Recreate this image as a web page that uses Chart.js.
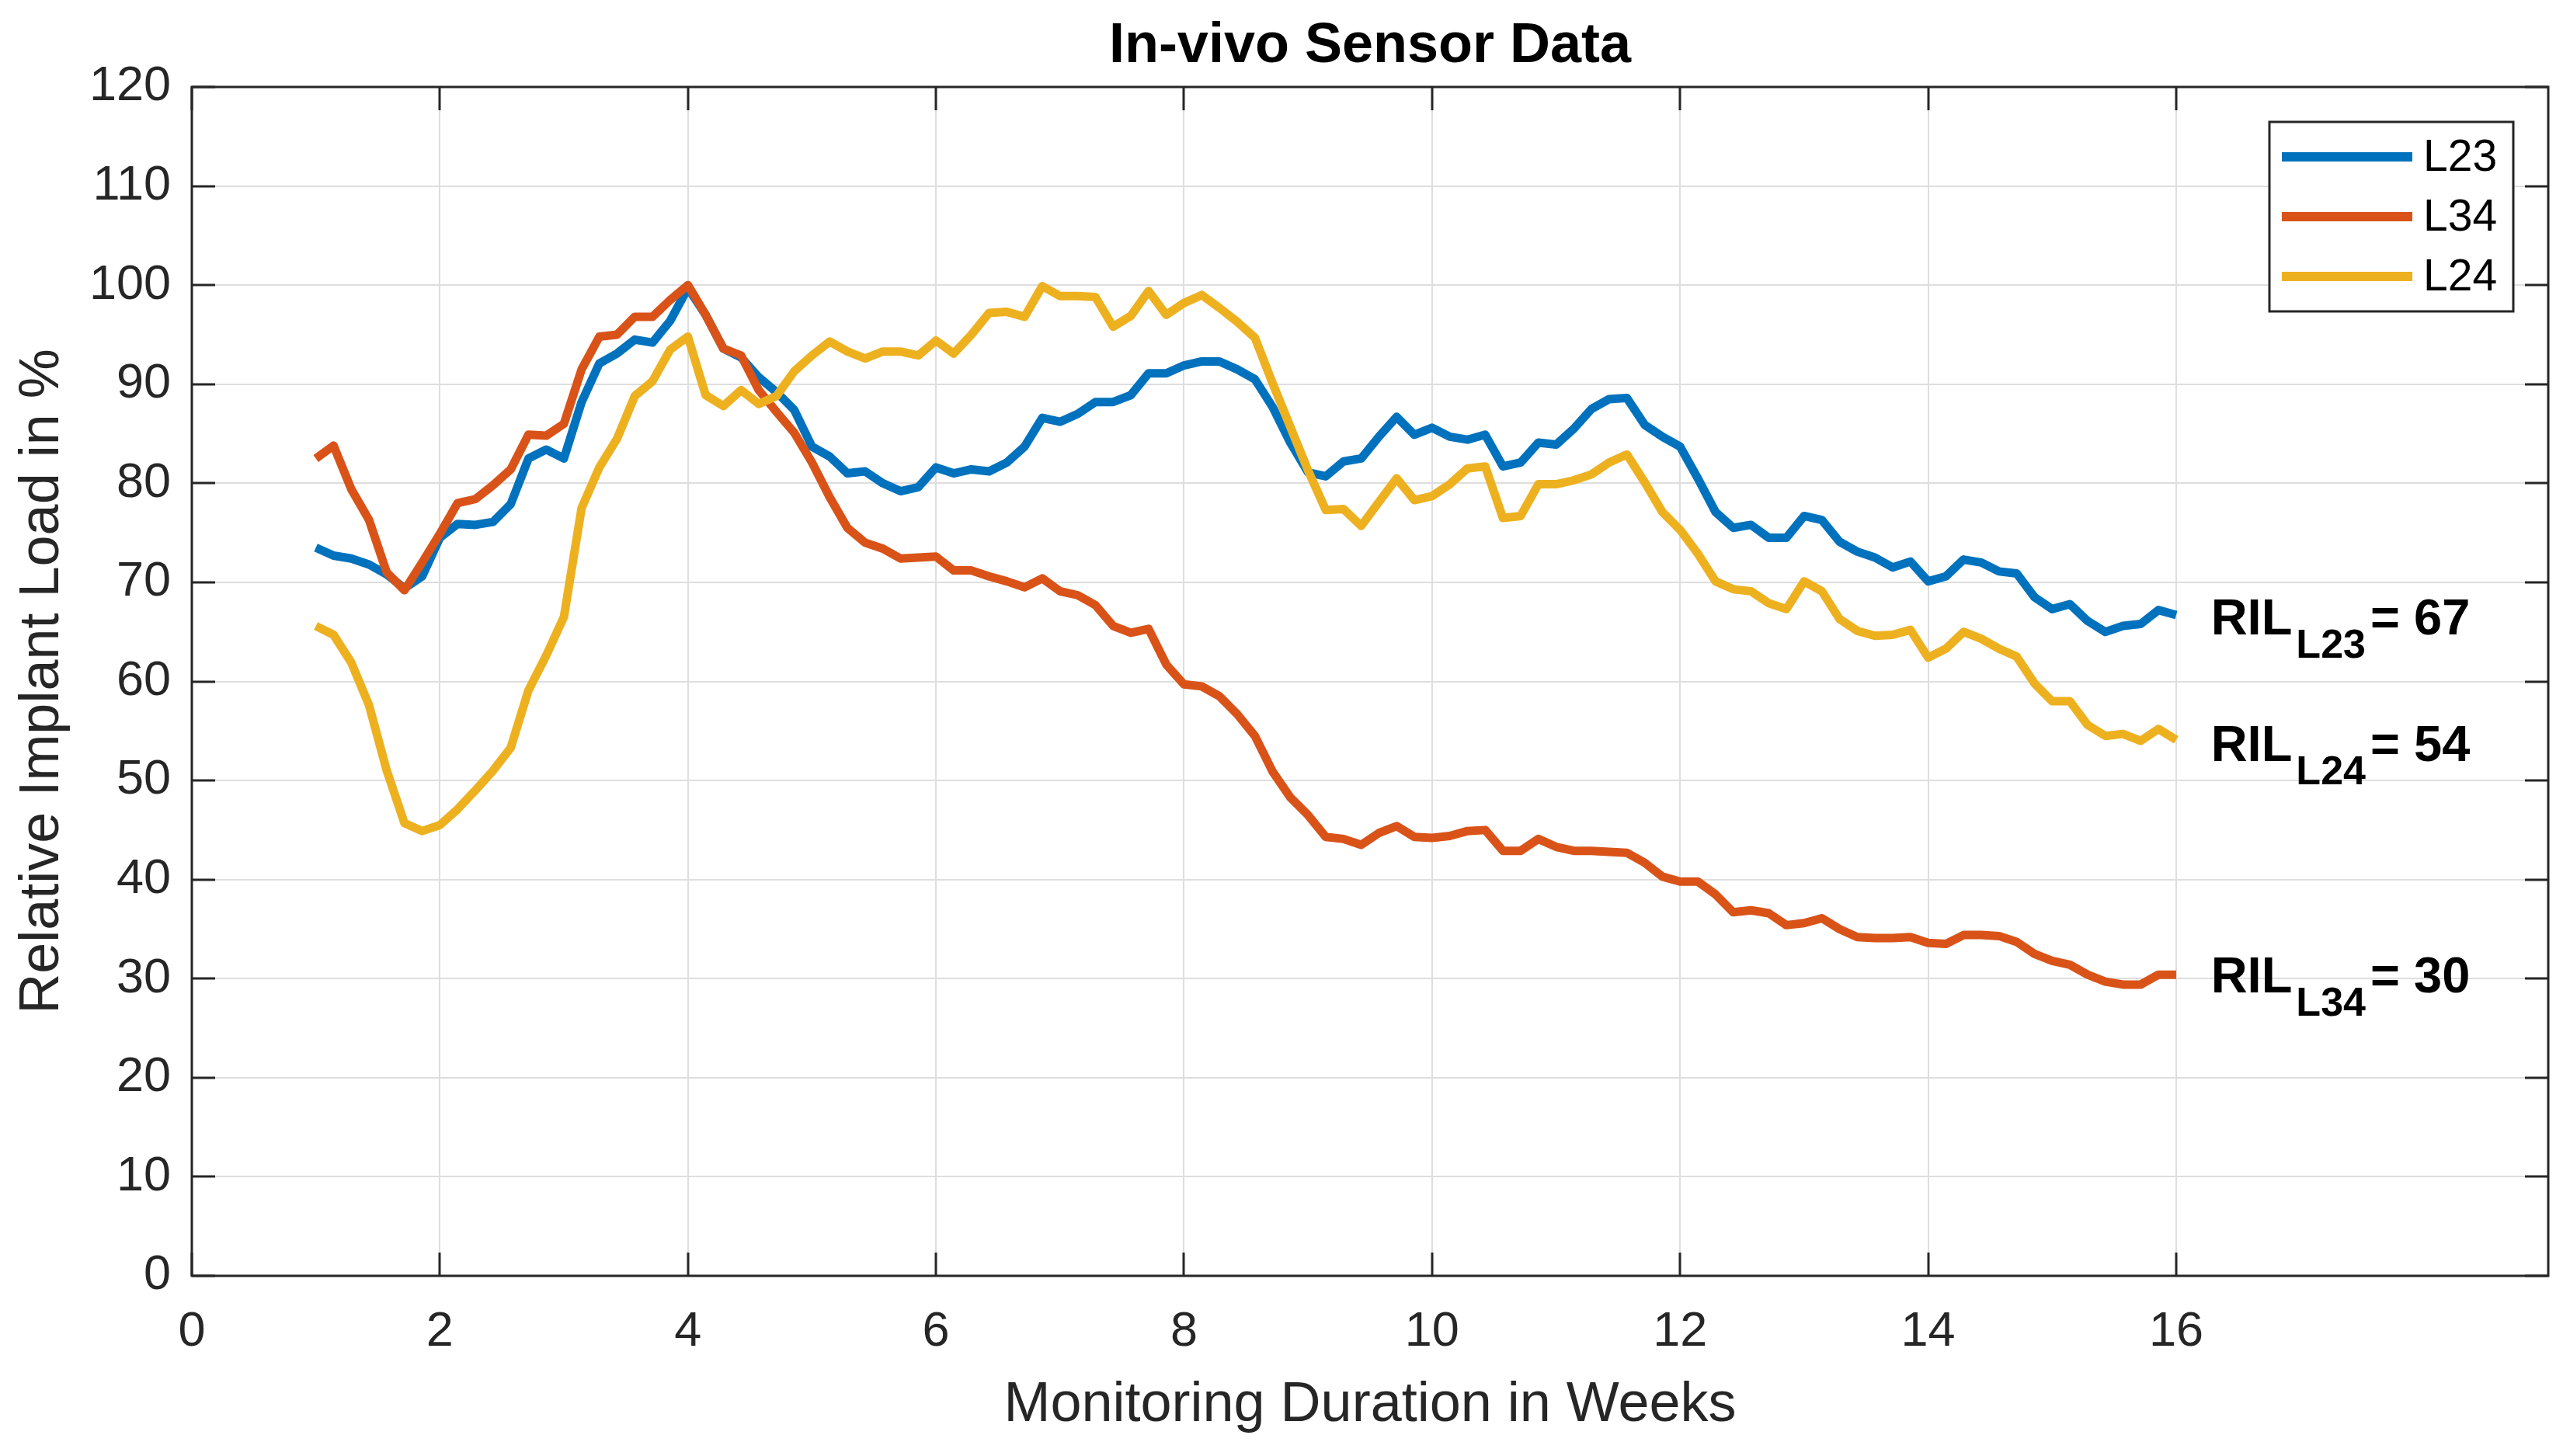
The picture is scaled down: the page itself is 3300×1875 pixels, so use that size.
<!DOCTYPE html>
<html>
<head>
<meta charset="utf-8">
<script src="https://cdn.jsdelivr.net/npm/chart.js@4.4.1/dist/chart.umd.min.js"></script>
<style>
  html, body { margin: 0; padding: 0; background: #fff; }
  canvas { display: block; }
</style>
</head>
<body>
<canvas id="chart" width="3300" height="1875"></canvas>
<script>
// daily samples, week 1 .. week 16
var L23 = [
    73.5, 72.7, 72.4, 71.8, 70.8, 69.4, 70.6, 74.5, 75.9, 75.8, 76.1, 77.9, 82.5, 83.4, 82.5,
    88.2, 92.1, 93.1, 94.5, 94.2, 96.4, 99.7, 97.0, 93.6, 92.7, 90.7, 89.2, 87.4, 83.7, 82.7,
    81.0, 81.2, 80.0, 79.2, 79.6, 81.6, 81.0, 81.4, 81.2, 82.1, 83.7, 86.6, 86.2, 87.0, 88.2,
    88.2, 88.9, 91.1, 91.1, 91.9, 92.3, 92.3, 91.5, 90.5, 87.7, 84.1, 81.1, 80.7, 82.2, 82.5,
    84.7, 86.7, 84.9, 85.6, 84.7, 84.4, 84.9, 81.7, 82.1, 84.1, 83.9, 85.5, 87.5, 88.5, 88.6,
    85.9, 84.7, 83.7, 80.5, 77.1, 75.5, 75.8, 74.5, 74.5, 76.7, 76.3, 74.1, 73.1, 72.5, 71.5,
    72.1, 70.1, 70.6, 72.3, 72.0, 71.1, 70.9, 68.5, 67.3, 67.8, 66.1, 65.0, 65.6, 65.8, 67.2,
    66.7
];
var L34 = [
    82.5, 83.8, 79.4, 76.3, 71.0, 69.2, 72.0, 74.9, 78.0, 78.4, 79.8, 81.4, 84.9, 84.8, 86.0,
    91.5, 94.8, 95.0, 96.8, 96.8, 98.5, 100.0, 97.0, 93.6, 92.9, 89.4, 87.2, 85.1, 82.1, 78.6,
    75.5, 74.0, 73.4, 72.4, 72.5, 72.6, 71.2, 71.2, 70.6, 70.1, 69.5, 70.4, 69.1, 68.7, 67.7,
    65.6, 64.9, 65.3, 61.7, 59.7, 59.5, 58.5, 56.7, 54.5, 50.9, 48.3, 46.5, 44.3, 44.1, 43.5,
    44.7, 45.4, 44.3, 44.2, 44.4, 44.9, 45.0, 42.9, 42.9, 44.1, 43.3, 42.9, 42.9, 42.8, 42.7,
    41.7, 40.3, 39.8, 39.8, 38.5, 36.7, 36.9, 36.6, 35.4, 35.6, 36.1, 35.0, 34.2, 34.1, 34.1,
    34.2, 33.6, 33.5, 34.4, 34.4, 34.3, 33.7, 32.5, 31.8, 31.4, 30.4, 29.7, 29.4, 29.4, 30.4,
    30.4
];
var L24 = [
    65.6, 64.7, 61.9, 57.6, 51.0, 45.7, 44.9, 45.5, 47.1, 49.0, 51.0, 53.3, 59.1, 62.6, 66.5,
    77.5, 81.6, 84.5, 88.8, 90.3, 93.5, 94.8, 88.9, 87.8, 89.4, 88.0, 88.8, 91.3, 92.9, 94.3,
    93.3, 92.6, 93.3, 93.3, 92.9, 94.4, 93.1, 95.0, 97.2, 97.3, 96.8, 99.9, 98.9, 98.9, 98.8,
    95.8, 96.9, 99.4, 97.0, 98.2, 99.0, 97.7, 96.3, 94.7, 90.1, 85.7, 81.3, 77.3, 77.4, 75.7,
    78.1, 80.5, 78.3, 78.7, 79.9, 81.5, 81.7, 76.5, 76.7, 79.9, 79.9, 80.3, 80.9, 82.1, 82.9,
    80.1, 77.1, 75.3, 72.9, 70.1, 69.3, 69.1, 67.9, 67.3, 70.1, 69.1, 66.3, 65.1, 64.6, 64.7,
    65.2, 62.4, 63.3, 65.0, 64.3, 63.3, 62.5, 59.8, 58.0, 58.0, 55.6, 54.5, 54.7, 54.0, 55.2,
    54.1
];
var SERIES_NAMES = ['L23', 'L34', 'L24'];
var X_TICKS = [0, 2, 4, 6, 8, 10, 12, 14, 16];
var RIL_NAMES = ['L23', 'L24', 'L34'];
var RIL_VALUES = [67, 54, 30];

var WEEKS = L23.map(function (_, i) { return 1 + i / 7; });

var COLORS = ['#0072BD', '#D95319', '#EDB120'];
var FONT = '"Liberation Sans", Arial, Helvetica, sans-serif';
var AXIS_COLOR = '#262626';

function points(values) {
    return values.map(function (v, i) { return { x: WEEKS[i], y: v }; });
}

// title centred over the axes, not over the canvas
var titlePlugin = {
    id: 'axesTitle',
    afterDraw: function (chart) {
        var ctx = chart.ctx, a = chart.chartArea;
        ctx.save();
        ctx.fillStyle = '#000';
        ctx.font = 'bold 72px ' + FONT;
        ctx.textAlign = 'center';
        ctx.textBaseline = 'middle';
        ctx.fillText('In-vivo Sensor Data', (a.left + a.right) / 2, 60);
        ctx.restore();
    }
};

// box, inward ticks on all four sides
var framePlugin = {
    id: 'matlabFrame',
    afterDatasetsDraw: function (chart) {
        var ctx = chart.ctx, a = chart.chartArea;
        var xs = chart.scales.x, ys = chart.scales.y;
        var tl = 30;
        ctx.save();
        ctx.strokeStyle = AXIS_COLOR;
        ctx.lineWidth = 3;
        ctx.beginPath();
        xs.ticks.forEach(function (t) {
            var px = Math.round(xs.getPixelForValue(t.value));
            ctx.moveTo(px, a.bottom); ctx.lineTo(px, a.bottom - tl);
            ctx.moveTo(px, a.top); ctx.lineTo(px, a.top + tl);
        });
        ys.ticks.forEach(function (t) {
            var py = Math.round(ys.getPixelForValue(t.value));
            ctx.moveTo(a.left, py); ctx.lineTo(a.left + tl, py);
            ctx.moveTo(a.right, py); ctx.lineTo(a.right - tl, py);
        });
        ctx.stroke();
        ctx.strokeRect(a.left, a.top, a.right - a.left, a.bottom - a.top);
        ctx.restore();
    }
};

// end value labels, RIL with subscript
var rilPlugin = {
    id: 'rilLabels',
    afterDatasetsDraw: function (chart) {
        var ctx = chart.ctx;
        var xs = chart.scales.x, ys = chart.scales.y;
        var posX = 16.28;
        var posY = [64.75, 52.0, 28.6];
        ctx.save();
        ctx.fillStyle = '#000';
        ctx.textAlign = 'left';
        ctx.textBaseline = 'alphabetic';
        RIL_NAMES.forEach(function (name, i) {
            var x = xs.getPixelForValue(posX);
            var y = ys.getPixelForValue(posY[i]);
            ctx.font = 'bold 65px ' + FONT;
            ctx.fillText('RIL', x, y);
            x += ctx.measureText('RIL').width + 5;
            ctx.font = 'bold 52px ' + FONT;
            ctx.fillText(name, x, y + 30);
            x += ctx.measureText(name).width + 6;
            ctx.font = 'bold 65px ' + FONT;
            ctx.fillText('= ' + RIL_VALUES[i], x, y);
        });
        ctx.restore();
    }
};

var legendPlugin = {
    id: 'boxLegend',
    afterDraw: function (chart) {
        var ctx = chart.ctx, a = chart.chartArea;
        var w = 314, h = 244;
        var x0 = a.right - 45 - w, y0 = a.top + 45;
        ctx.save();
        ctx.fillStyle = '#fff';
        ctx.fillRect(x0, y0, w, h);
        ctx.strokeStyle = AXIS_COLOR;
        ctx.lineWidth = 3;
        ctx.strokeRect(x0, y0, w, h);
        ctx.font = '57px ' + FONT;
        ctx.textBaseline = 'middle';
        ctx.textAlign = 'left';
        chart.data.datasets.forEach(function (ds, i) {
            var y = y0 + 45 + i * 77;
            ctx.strokeStyle = ds.borderColor;
            ctx.lineWidth = 12;
            ctx.beginPath();
            ctx.moveTo(x0 + 16, y);
            ctx.lineTo(x0 + 184, y);
            ctx.stroke();
            ctx.fillStyle = '#000';
            ctx.fillText(ds.label, x0 + 198, y + 2);
        });
        ctx.restore();
    }
};

new Chart(document.getElementById('chart'), {
    type: 'line',
    data: {
        datasets: [L23, L34, L24].map(function (vals, i) {
            return {
                label: SERIES_NAMES[i],
                data: points(vals),
                borderColor: COLORS[i],
                backgroundColor: COLORS[i],
                borderWidth: 11,
                borderJoinStyle: 'round',
                pointRadius: 0,
                tension: 0,
                fill: false,
                order: 3 - i,
            };
        }),
    },
    options: {
        responsive: false,
        animation: false,
        devicePixelRatio: 1,
        layout: { padding: { top: 112, right: 19, bottom: 0, left: 0 } },
        plugins: {
            legend: { display: false },
            tooltip: { enabled: false },
            title: { display: false },
        },
        scales: {
            x: {
                type: 'linear',
                min: 0, max: 19,
                afterBuildTicks: function (s) {
                    s.ticks = X_TICKS.map(function (v) { return { value: v }; });
                },
                afterFit: function (s) { s.height = 232; },
                grid: { color: '#dedede', lineWidth: 2, drawTicks: false },
                border: { display: false },
                ticks: {
                    color: AXIS_COLOR,
                    font: { family: FONT, size: 63 },
                    padding: 35,
                    maxRotation: 0,
                    autoSkip: false,
                },
                title: {
                    display: true,
                    text: 'Monitoring Duration in Weeks',
                    color: AXIS_COLOR,
                    font: { family: FONT, size: 72 },
                    padding: { top: 0, bottom: 22 },
                },
            },
            y: {
                min: 0, max: 120,
                afterFit: function (s) { s.width = 247; },
                grid: { color: '#dedede', lineWidth: 2, drawTicks: false },
                border: { display: false },
                ticks: {
                    stepSize: 10,
                    color: AXIS_COLOR,
                    font: { family: FONT, size: 63 },
                    padding: 27,
                },
                title: {
                    display: true,
                    text: 'Relative Implant Load in %',
                    color: AXIS_COLOR,
                    font: { family: FONT, size: 72 },
                    padding: { top: 12, bottom: 0 },
                },
            },
        },
    },
    plugins: [framePlugin, rilPlugin, legendPlugin, titlePlugin],
});
</script>
</body>
</html>
